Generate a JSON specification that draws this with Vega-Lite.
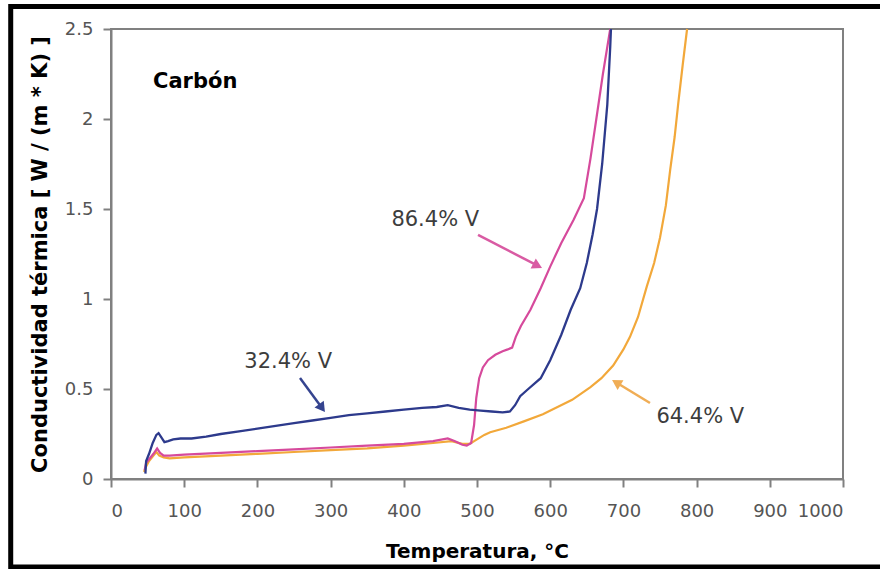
{
  "$schema": "https://vega.github.io/schema/vega-lite/v6.json",
  "width": 732,
  "height": 450,
  "autosize": {"type": "none"},
  "padding": {"left": 111, "top": 29, "right": 37, "bottom": 90},
  "background": "white",
  "config": {
    "view": {"stroke": "#808080", "strokeWidth": 2},
    "axis": {
      "grid": false,
      "domainColor": "#808080",
      "domainWidth": 2,
      "tickColor": "#808080",
      "tickWidth": 2,
      "tickSize": 8,
      "labelFont": "DejaVu Sans",
      "labelFontSize": 18,
      "labelColor": "#555555",
      "titleFont": "DejaVu Sans",
      "titleFontWeight": "bold",
      "titleColor": "#000000"
    }
  },
  "datasets": {
    "frame": [{"fx0": -137, "fx1": 1064, "fy0": 2.625, "fy1": -0.489}],
    "curves": [
      {"serie": "64.4% V", "t": 45, "k": 0.04}, {"serie": "64.4% V", "t": 48, "k": 0.07}, {"serie": "64.4% V", "t": 52, "k": 0.1}, {"serie": "64.4% V", "t": 58, "k": 0.13}, {"serie": "64.4% V", "t": 62, "k": 0.15}, {"serie": "64.4% V", "t": 66, "k": 0.13}, {"serie": "64.4% V", "t": 72, "k": 0.12}, {"serie": "64.4% V", "t": 80, "k": 0.115}, {"serie": "64.4% V", "t": 100, "k": 0.12}, {"serie": "64.4% V", "t": 150, "k": 0.13}, {"serie": "64.4% V", "t": 200, "k": 0.14}, {"serie": "64.4% V", "t": 250, "k": 0.15}, {"serie": "64.4% V", "t": 300, "k": 0.16}, {"serie": "64.4% V", "t": 350, "k": 0.17}, {"serie": "64.4% V", "t": 400, "k": 0.185}, {"serie": "64.4% V", "t": 440, "k": 0.2}, {"serie": "64.4% V", "t": 465, "k": 0.21}, {"serie": "64.4% V", "t": 480, "k": 0.195}, {"serie": "64.4% V", "t": 490, "k": 0.195}, {"serie": "64.4% V", "t": 500, "k": 0.22}, {"serie": "64.4% V", "t": 510, "k": 0.245}, {"serie": "64.4% V", "t": 518, "k": 0.26}, {"serie": "64.4% V", "t": 540, "k": 0.285}, {"serie": "64.4% V", "t": 564, "k": 0.32}, {"serie": "64.4% V", "t": 590, "k": 0.36}, {"serie": "64.4% V", "t": 610, "k": 0.4}, {"serie": "64.4% V", "t": 630, "k": 0.44}, {"serie": "64.4% V", "t": 655, "k": 0.51}, {"serie": "64.4% V", "t": 670, "k": 0.56}, {"serie": "64.4% V", "t": 686, "k": 0.63}, {"serie": "64.4% V", "t": 700, "k": 0.72}, {"serie": "64.4% V", "t": 709, "k": 0.79}, {"serie": "64.4% V", "t": 720, "k": 0.9}, {"serie": "64.4% V", "t": 732, "k": 1.07}, {"serie": "64.4% V", "t": 742, "k": 1.2}, {"serie": "64.4% V", "t": 750, "k": 1.34}, {"serie": "64.4% V", "t": 758, "k": 1.52}, {"serie": "64.4% V", "t": 764, "k": 1.72}, {"serie": "64.4% V", "t": 770, "k": 1.9}, {"serie": "64.4% V", "t": 775, "k": 2.09}, {"serie": "64.4% V", "t": 781, "k": 2.3}, {"serie": "64.4% V", "t": 787, "k": 2.5},
      {"serie": "86.4% V", "t": 46, "k": 0.05}, {"serie": "86.4% V", "t": 48, "k": 0.09}, {"serie": "86.4% V", "t": 52, "k": 0.11}, {"serie": "86.4% V", "t": 58, "k": 0.14}, {"serie": "86.4% V", "t": 63, "k": 0.17}, {"serie": "86.4% V", "t": 67, "k": 0.145}, {"serie": "86.4% V", "t": 72, "k": 0.13}, {"serie": "86.4% V", "t": 80, "k": 0.13}, {"serie": "86.4% V", "t": 100, "k": 0.135}, {"serie": "86.4% V", "t": 150, "k": 0.145}, {"serie": "86.4% V", "t": 200, "k": 0.155}, {"serie": "86.4% V", "t": 250, "k": 0.165}, {"serie": "86.4% V", "t": 300, "k": 0.175}, {"serie": "86.4% V", "t": 350, "k": 0.185}, {"serie": "86.4% V", "t": 400, "k": 0.195}, {"serie": "86.4% V", "t": 440, "k": 0.21}, {"serie": "86.4% V", "t": 460, "k": 0.225}, {"serie": "86.4% V", "t": 470, "k": 0.21}, {"serie": "86.4% V", "t": 480, "k": 0.19}, {"serie": "86.4% V", "t": 486, "k": 0.185}, {"serie": "86.4% V", "t": 492, "k": 0.2}, {"serie": "86.4% V", "t": 496, "k": 0.3}, {"serie": "86.4% V", "t": 499, "k": 0.45}, {"serie": "86.4% V", "t": 503, "k": 0.56}, {"serie": "86.4% V", "t": 508, "k": 0.62}, {"serie": "86.4% V", "t": 515, "k": 0.66}, {"serie": "86.4% V", "t": 525, "k": 0.69}, {"serie": "86.4% V", "t": 535, "k": 0.71}, {"serie": "86.4% V", "t": 542, "k": 0.72}, {"serie": "86.4% V", "t": 548, "k": 0.73}, {"serie": "86.4% V", "t": 553, "k": 0.79}, {"serie": "86.4% V", "t": 560, "k": 0.85}, {"serie": "86.4% V", "t": 573, "k": 0.94}, {"serie": "86.4% V", "t": 587, "k": 1.06}, {"serie": "86.4% V", "t": 600, "k": 1.18}, {"serie": "86.4% V", "t": 615, "k": 1.31}, {"serie": "86.4% V", "t": 632, "k": 1.44}, {"serie": "86.4% V", "t": 646, "k": 1.56}, {"serie": "86.4% V", "t": 655, "k": 1.78}, {"serie": "86.4% V", "t": 663, "k": 2.0}, {"serie": "86.4% V", "t": 672, "k": 2.25}, {"serie": "86.4% V", "t": 682, "k": 2.5},
      {"serie": "32.4% V", "t": 47, "k": 0.03}, {"serie": "32.4% V", "t": 48, "k": 0.1}, {"serie": "32.4% V", "t": 52, "k": 0.14}, {"serie": "32.4% V", "t": 57, "k": 0.2}, {"serie": "32.4% V", "t": 62, "k": 0.245}, {"serie": "32.4% V", "t": 65, "k": 0.255}, {"serie": "32.4% V", "t": 69, "k": 0.23}, {"serie": "32.4% V", "t": 73, "k": 0.205}, {"serie": "32.4% V", "t": 78, "k": 0.21}, {"serie": "32.4% V", "t": 85, "k": 0.22}, {"serie": "32.4% V", "t": 95, "k": 0.225}, {"serie": "32.4% V", "t": 110, "k": 0.225}, {"serie": "32.4% V", "t": 130, "k": 0.235}, {"serie": "32.4% V", "t": 150, "k": 0.25}, {"serie": "32.4% V", "t": 175, "k": 0.265}, {"serie": "32.4% V", "t": 200, "k": 0.28}, {"serie": "32.4% V", "t": 225, "k": 0.295}, {"serie": "32.4% V", "t": 250, "k": 0.31}, {"serie": "32.4% V", "t": 275, "k": 0.325}, {"serie": "32.4% V", "t": 300, "k": 0.34}, {"serie": "32.4% V", "t": 325, "k": 0.355}, {"serie": "32.4% V", "t": 350, "k": 0.365}, {"serie": "32.4% V", "t": 375, "k": 0.375}, {"serie": "32.4% V", "t": 400, "k": 0.385}, {"serie": "32.4% V", "t": 425, "k": 0.395}, {"serie": "32.4% V", "t": 445, "k": 0.4}, {"serie": "32.4% V", "t": 460, "k": 0.41}, {"serie": "32.4% V", "t": 475, "k": 0.395}, {"serie": "32.4% V", "t": 490, "k": 0.385}, {"serie": "32.4% V", "t": 505, "k": 0.38}, {"serie": "32.4% V", "t": 520, "k": 0.375}, {"serie": "32.4% V", "t": 535, "k": 0.37}, {"serie": "32.4% V", "t": 545, "k": 0.375}, {"serie": "32.4% V", "t": 552, "k": 0.41}, {"serie": "32.4% V", "t": 559, "k": 0.46}, {"serie": "32.4% V", "t": 570, "k": 0.5}, {"serie": "32.4% V", "t": 587, "k": 0.56}, {"serie": "32.4% V", "t": 600, "k": 0.66}, {"serie": "32.4% V", "t": 615, "k": 0.8}, {"serie": "32.4% V", "t": 628, "k": 0.94}, {"serie": "32.4% V", "t": 641, "k": 1.06}, {"serie": "32.4% V", "t": 650, "k": 1.2}, {"serie": "32.4% V", "t": 658, "k": 1.36}, {"serie": "32.4% V", "t": 664, "k": 1.5}, {"serie": "32.4% V", "t": 671, "k": 1.75}, {"serie": "32.4% V", "t": 678, "k": 2.08}, {"serie": "32.4% V", "t": 682, "k": 2.4}, {"serie": "32.4% V", "t": 683, "k": 2.5}
    ],
    "arrows": [
      {"serie": "86.4% V", "x1": 501.4, "y1": 1.356, "x2": 582.8, "y2": 1.185},
      {"serie": "32.4% V", "x1": 258.2, "y1": 0.561, "x2": 288.3, "y2": 0.394},
      {"serie": "64.4% V", "x1": 736.3, "y1": 0.422, "x2": 690.3, "y2": 0.536}
    ],
    "labels": [
      {"label": "86.4% V", "x": 443, "y": 1.439},
      {"label": "32.4% V", "x": 242, "y": 0.65},
      {"label": "64.4% V", "x": 805, "y": 0.344}
    ],
    "title": [{"label": "Carbón", "x": 57.4, "y": 2.206}]
  },
  "encoding": {
    "x": {"type": "quantitative"},
    "y": {"type": "quantitative"}
  },
  "layer": [
    {
      "data": {"name": "frame"},
      "mark": {"type": "rect", "fill": null, "fillOpacity": 0, "stroke": "#000000", "strokeWidth": 5, "clip": false},
      "encoding": {
        "x": {"field": "fx0", "type": "quantitative", "scale": {"domain": [0, 1000], "nice": false, "zero": false}, "axis": {"values": [0,100,200,300,400,500,600,700,800,900,1000], "labelExpr": "datum.value + ''", "title": "Temperatura, °C", "titleFontSize": 20, "labelPadding": 15, "titlePadding": 21}},
        "x2": {"field": "fx1"},
        "y": {"field": "fy0", "type": "quantitative", "scale": {"domain": [0, 2.5], "nice": false, "zero": false}, "axis": {"values": [0, 0.5, 1, 1.5, 2, 2.5], "labelExpr": "datum.value + ''", "title": "Conductividad térmica [ W / (m * K) ]", "titleFontSize": 21, "labelPadding": 10, "titlePadding": 14}},
        "y2": {"field": "fy1"}
      }
    },
    {
      "data": {"name": "curves"},
      "transform": [{"filter": "datum.serie == '64.4% V'"}],
      "mark": {"type": "line", "color": "#f2a83a", "strokeWidth": 2.2},
      "encoding": {"x": {"field": "t", "type": "quantitative"}, "y": {"field": "k", "type": "quantitative"}, "order": {"field": "t"}}
    },
    {
      "data": {"name": "curves"},
      "transform": [{"filter": "datum.serie == '86.4% V'"}],
      "mark": {"type": "line", "color": "#d64a9c", "strokeWidth": 2.2},
      "encoding": {"x": {"field": "t", "type": "quantitative"}, "y": {"field": "k", "type": "quantitative"}, "order": {"field": "t"}}
    },
    {
      "data": {"name": "curves"},
      "transform": [{"filter": "datum.serie == '32.4% V'"}],
      "mark": {"type": "line", "color": "#2d3a8c", "strokeWidth": 2.3},
      "encoding": {"x": {"field": "t", "type": "quantitative"}, "y": {"field": "k", "type": "quantitative"}, "order": {"field": "t"}}
    },
    {
      "data": {"name": "arrows"},
      "mark": {"type": "rule", "strokeWidth": 2.5},
      "encoding": {
        "x": {"field": "x1", "type": "quantitative"},
        "y": {"field": "y1", "type": "quantitative"},
        "x2": {"field": "x2"},
        "y2": {"field": "y2"},
        "color": {"field": "serie", "type": "nominal", "scale": {"domain": ["86.4% V", "32.4% V", "64.4% V"], "range": ["#d95ba3", "#35448f", "#f0ad55"]}, "legend": null}
      }
    },
    {
      "data": {"name": "arrows"},
      "transform": [{"filter": "datum.serie == '86.4% V'"}],
      "mark": {"type": "point", "shape": "triangle-up", "filled": true, "size": 130, "angle": 117, "color": "#d95ba3", "opacity": 1},
      "encoding": {"x": {"field": "x2", "type": "quantitative"}, "y": {"field": "y2", "type": "quantitative"}}
    },
    {
      "data": {"name": "arrows"},
      "transform": [{"filter": "datum.serie == '32.4% V'"}],
      "mark": {"type": "point", "shape": "triangle-up", "filled": true, "size": 130, "angle": 144, "color": "#35448f", "opacity": 1},
      "encoding": {"x": {"field": "x2", "type": "quantitative"}, "y": {"field": "y2", "type": "quantitative"}}
    },
    {
      "data": {"name": "arrows"},
      "transform": [{"filter": "datum.serie == '64.4% V'"}],
      "mark": {"type": "point", "shape": "triangle-up", "filled": true, "size": 130, "angle": 301, "color": "#f0ad55", "opacity": 1},
      "encoding": {"x": {"field": "x2", "type": "quantitative"}, "y": {"field": "y2", "type": "quantitative"}}
    },
    {
      "data": {"name": "labels"},
      "mark": {"type": "text", "font": "DejaVu Sans", "fontSize": 21, "color": "#3d3d3d", "align": "center", "baseline": "middle"},
      "encoding": {"x": {"field": "x", "type": "quantitative"}, "y": {"field": "y", "type": "quantitative"}, "text": {"field": "label"}}
    },
    {
      "data": {"name": "title"},
      "mark": {"type": "text", "font": "DejaVu Sans", "fontSize": 21, "fontWeight": "bold", "color": "#000000", "align": "left", "baseline": "middle"},
      "encoding": {"x": {"field": "x", "type": "quantitative"}, "y": {"field": "y", "type": "quantitative"}, "text": {"field": "label"}}
    }
  ]
}
